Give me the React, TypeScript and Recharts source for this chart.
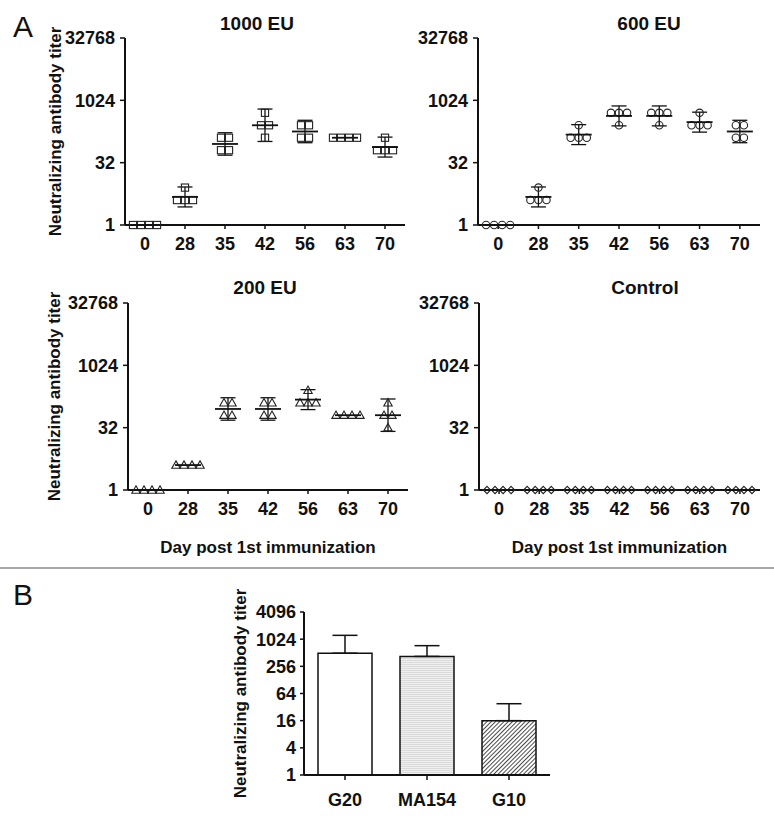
import React from "react";
import {
  Bar,
  BarChart,
  Cell,
  ErrorBar,
  Scatter,
  ScatterChart,
  XAxis,
  YAxis,
} from "recharts";

// panel A: titers per mouse (4 mice) for each bleed day
const DAYS = ["0", "28", "35", "42", "56", "63", "70"];
const Y_TICKS_A = [0, 5, 10, 15]; // log2 -> 1, 32, 1024, 32768

const TITERS_1000 = [
  [1, 1, 1, 1],
  [8, 4, 4, 4],
  [128, 128, 64, 64],
  [512, 256, 256, 128],
  [256, 256, 128, 128],
  [128, 128, 128, 128],
  [128, 64, 64, 64],
];
// geometric mean and SD bar, log2 units
const MEAN_1000 = [0, 2.25, 6.5, 8, 7.5, 7, 6.25];
const SD_1000 = [0, 0.8, 0.9, 1.3, 0.9, 0, 0.8];

const TITERS_600 = [
  [1, 1, 1, 1],
  [8, 4, 4, 4],
  [256, 128, 128, 128],
  [512, 512, 512, 256],
  [512, 512, 512, 256],
  [512, 256, 256, 256],
  [256, 256, 128, 128],
];
const MEAN_600 = [0, 2.25, 7.25, 8.75, 8.75, 8.25, 7.5];
const SD_600 = [0, 0.8, 0.8, 0.8, 0.8, 0.8, 0.9];

const TITERS_200 = [
  [1, 1, 1, 1],
  [4, 4, 4, 4],
  [128, 128, 64, 64],
  [128, 128, 64, 64],
  [256, 128, 128, 128],
  [64, 64, 64, 64],
  [128, 64, 64, 32],
];
const MEAN_200 = [0, 2, 6.5, 6.5, 7.25, 6, 6];
const SD_200 = [0, 0, 0.9, 0.9, 0.8, 0, 1.3];

const TITERS_CONTROL = [
  [1, 1, 1, 1],
  [1, 1, 1, 1],
  [1, 1, 1, 1],
  [1, 1, 1, 1],
  [1, 1, 1, 1],
  [1, 1, 1, 1],
  [1, 1, 1, 1],
];
const MEAN_CONTROL = [0, 0, 0, 0, 0, 0, 0];
const SD_CONTROL = [0, 0, 0, 0, 0, 0, 0];

// panel B: mAb groups
const GROUPS_B = ["G20", "MA154", "G10"];
const TITER_B = [500, 425, 16];
const UPPER_B = [1245, 735, 38]; // top of the error bar
const Y_TICKS_B = [0, 2, 4, 6, 8, 10, 12]; // log2 -> 1 ... 4096

const FONT = "'Liberation Sans', Arial, Helvetica, sans-serif";
const INK = "#111";
const Y_TITLE = "Neutralizing antibody titer";
const X_TITLE = "Day post 1st immunization";

const axisStyle = { stroke: INK, strokeWidth: 2 };
const tickLineStyle = { stroke: INK, strokeWidth: 1.5 };
const titleText = { fill: INK, fontSize: 17, fontWeight: 700, fontFamily: FONT };

// tick renderers so the font size sticks
const xTick = (fmt: (v: any) => string, size = 18) => (props: any) => (
  <text
    x={props.x}
    y={props.y}
    dy="0.72em"
    textAnchor="middle"
    style={{ fontFamily: FONT, fontSize: `${size}px`, fontWeight: 700, fill: INK }}
  >
    {fmt(props.payload.value)}
  </text>
);
const yTick = (size = 18) => (props: any) => (
  <text
    x={props.x}
    y={props.y}
    dy="0.36em"
    textAnchor="end"
    style={{ fontFamily: FONT, fontSize: `${size}px`, fontWeight: 700, fill: INK }}
  >
    {String(2 ** props.payload.value)}
  </text>
);

type Kind = "square" | "circle" | "triangle" | "diamond";

// spread equal values side by side, like a column scatter
function toPoints(titers: number[][]) {
  const pts: { x: number; y: number }[] = [];
  titers.forEach((col, d) => {
    const seen: Record<number, number> = {};
    col.forEach((v) => (seen[v] = (seen[v] ?? 0) + 1));
    Object.keys(seen).forEach((k) => {
      const n = seen[Number(k)];
      for (let i = 0; i < n; i++) {
        pts.push({ x: d + (i - (n - 1) / 2) * 0.2, y: Math.log2(Number(k)) });
      }
    });
  });
  return pts;
}

function marker(kind: Kind) {
  return (props: any) => {
    const { cx, cy } = props;
    const s = { fill: "none", stroke: "#222", strokeWidth: 1.1 };
    if (kind === "square")
      return <rect x={cx - 3.6} y={cy - 3.6} width={7.2} height={7.2} {...s} />;
    if (kind === "circle") return <circle cx={cx} cy={cy} r={3.7} {...s} />;
    if (kind === "triangle")
      return (
        <polygon
          points={`${cx},${cy - 4.2} ${cx + 4.2},${cy + 3.2} ${cx - 4.2},${cy + 3.2}`}
          {...s}
        />
      );
    return (
      <polygon
        points={`${cx},${cy - 3.6} ${cx + 3.6},${cy} ${cx},${cy + 3.6} ${cx - 3.6},${cy}`}
        {...s}
      />
    );
  };
}

const meanLine = (props: any) => (
  <line
    x1={props.cx - 13}
    x2={props.cx + 13}
    y1={props.cy}
    y2={props.cy}
    stroke={INK}
    strokeWidth={1.8}
  />
);

interface PanelProps {
  left: number;
  top: number;
  width: number;
  height: number;
  marginTop: number;
  marginRight: number;
  yAxisWidth: number;
  xAxisHeight: number;
  titers: number[][];
  mean: number[];
  sd: number[];
  kind: Kind;
  yTitleOffset?: number;
  showXTitle?: boolean;
}

function TimePanel(p: PanelProps) {
  const points = toPoints(p.titers);
  const means = p.mean.map((m, i) => ({ x: i, y: m, sd: p.sd[i] }));
  return (
    <div style={{ position: "absolute", left: p.left, top: p.top }}>
      <ScatterChart
        width={p.width}
        height={p.height}
        margin={{ top: p.marginTop, right: p.marginRight, bottom: 0, left: 0 }}
      >
        <XAxis
          type="number"
          dataKey="x"
          domain={[-0.5, 6.5]}
          ticks={[0, 1, 2, 3, 4, 5, 6]}
          interval={0}
          height={p.xAxisHeight}
          axisLine={axisStyle}
          tickLine={tickLineStyle}
          tickSize={4}
          tickMargin={8}
          tick={xTick((i: number) => DAYS[i])}
          label={
            p.showXTitle
              ? { value: X_TITLE, position: "insideBottom", offset: 7, style: titleText }
              : undefined
          }
        />
        <YAxis
          type="number"
          dataKey="y"
          domain={[0, 15]}
          ticks={Y_TICKS_A}
          interval={0}
          width={p.yAxisWidth}
          axisLine={axisStyle}
          tickLine={tickLineStyle}
          tickSize={5}
          tickMargin={5}
          tick={yTick()}
          label={
            p.yTitleOffset !== undefined
              ? {
                  value: Y_TITLE,
                  angle: -90,
                  position: "insideLeft",
                  offset: p.yTitleOffset,
                  style: { ...titleText, textAnchor: "middle" },
                }
              : undefined
          }
        />
        <Scatter data={points} shape={marker(p.kind)} isAnimationActive={false} />
        <Scatter data={means} shape={meanLine} isAnimationActive={false}>
          <ErrorBar
            dataKey="sd"
            direction="y"
            width={7.5}
            stroke={INK}
            strokeWidth={1.3}
            isAnimationActive={false}
          />
        </Scatter>
      </ScatterChart>
    </div>
  );
}

function PanelB() {
  const data = GROUPS_B.map((g, i) => ({
    name: g,
    v: Math.log2(TITER_B[i]),
    err: [0, Math.log2(UPPER_B[i]) - Math.log2(TITER_B[i])],
  }));
  const fills = ["#ffffff", "url(#hatchLight)", "url(#hatchDiag)"];
  return (
    <div style={{ position: "absolute", left: 150, top: 570 }}>
      <BarChart
        width={410}
        height={249}
        data={data}
        margin={{ top: 42, right: 10, bottom: 0, left: 0 }}
      >
        <defs>
          <pattern id="hatchLight" width="4" height="2" patternUnits="userSpaceOnUse">
            <rect width="4" height="2" fill="#f0f0f0" />
            <line x1="0" y1="0.5" x2="4" y2="0.5" stroke="#d4d4d4" strokeWidth="0.8" />
          </pattern>
          <pattern
            id="hatchDiag"
            width="3"
            height="3"
            patternUnits="userSpaceOnUse"
            patternTransform="rotate(45)"
          >
            <rect width="3" height="3" fill="#ffffff" />
            <line x1="0" y1="0" x2="0" y2="3" stroke="#2a2a2a" strokeWidth="1.7" />
          </pattern>
        </defs>
        <XAxis
          dataKey="name"
          height={44}
          axisLine={axisStyle}
          tickLine={tickLineStyle}
          tickSize={5}
          tickMargin={13}
          tick={xTick((v: string) => v, 18)}
        />
        <YAxis
          type="number"
          domain={[0, 12]}
          ticks={Y_TICKS_B}
          interval={0}
          width={154}
          axisLine={axisStyle}
          tickLine={tickLineStyle}
          tickSize={4}
          tickMargin={4}
          tick={yTick(18)}
          label={{
            value: Y_TITLE,
            angle: -90,
            position: "insideLeft",
            offset: 90,
            style: { ...titleText, textAnchor: "middle" },
          }}
        />
        <Bar dataKey="v" barSize={54} stroke={INK} strokeWidth={1.5} isAnimationActive={false}>
          {data.map((d, i) => (
            <Cell key={d.name} fill={fills[i]} />
          ))}
          <ErrorBar
            dataKey="err"
            direction="y"
            width={12.5}
            stroke={INK}
            strokeWidth={1.5}
            isAnimationActive={false}
          />
        </Bar>
      </BarChart>
    </div>
  );
}

export default function App() {
  const titleStyle = { fontFamily: FONT, fontSize: 19, fontWeight: 700, fill: INK };
  return (
    <div
      style={{
        position: "absolute",
        left: 0,
        top: 0,
        width: 774,
        height: 819,
        background: "#fff",
        fontFamily: FONT,
      }}
    >
      <TimePanel
        left={0}
        top={0}
        width={420}
        height={270}
        marginTop={38}
        marginRight={15}
        yAxisWidth={125}
        xAxisHeight={45}
        titers={TITERS_1000}
        mean={MEAN_1000}
        sd={SD_1000}
        kind="square"
        yTitleOffset={55}
      />
      <TimePanel
        left={390}
        top={0}
        width={384}
        height={270}
        marginTop={38}
        marginRight={14}
        yAxisWidth={88}
        xAxisHeight={45}
        titers={TITERS_600}
        mean={MEAN_600}
        sd={SD_600}
        kind="circle"
      />
      <TimePanel
        left={0}
        top={270}
        width={420}
        height={290}
        marginTop={33}
        marginRight={12}
        yAxisWidth={128}
        xAxisHeight={70}
        titers={TITERS_200}
        mean={MEAN_200}
        sd={SD_200}
        kind="triangle"
        yTitleOffset={54}
        showXTitle
      />
      <TimePanel
        left={390}
        top={270}
        width={384}
        height={290}
        marginTop={33}
        marginRight={14}
        yAxisWidth={89}
        xAxisHeight={70}
        titers={TITERS_CONTROL}
        mean={MEAN_CONTROL}
        sd={SD_CONTROL}
        kind="diamond"
        showXTitle
      />
      <PanelB />
      <svg
        width={774}
        height={819}
        style={{ position: "absolute", left: 0, top: 0, pointerEvents: "none" }}
      >
        <text x={13} y={37} fontFamily={FONT} fontSize={30} fill={INK}>
          A
        </text>
        <text x={13} y={605} fontFamily={FONT} fontSize={30} fill={INK}>
          B
        </text>
        <text x={257} y={30} textAnchor="middle" {...titleStyle}>
          1000 EU
        </text>
        <text x={649} y={30} textAnchor="middle" {...titleStyle}>
          600 EU
        </text>
        <text x={265} y={294} textAnchor="middle" {...titleStyle}>
          200 EU
        </text>
        <text x={645} y={294} textAnchor="middle" {...titleStyle}>
          Control
        </text>
        <line x1={0} x2={774} y1={568} y2={568} stroke="#8a8a8a" strokeWidth={1.5} />
      </svg>
    </div>
  );
}
